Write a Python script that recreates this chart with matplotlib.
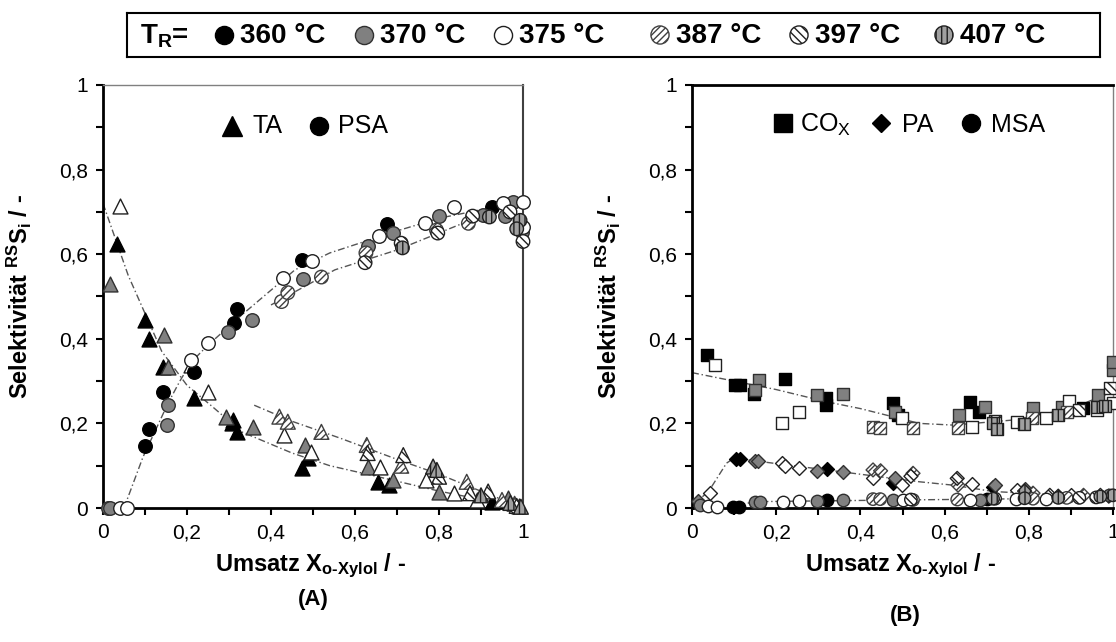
import numpy as np
import matplotlib
matplotlib.use("Agg")
import matplotlib.pyplot as plt
from matplotlib.ticker import MultipleLocator, FuncFormatter

plt.rcParams['font.family'] = ['Liberation Sans', 'DejaVu Sans']
plt.rcParams['mathtext.fontset'] = 'custom'
plt.rcParams['mathtext.rm'] = 'Liberation Sans'
plt.rcParams['mathtext.it'] = 'Liberation Sans'
plt.rcParams['mathtext.bf'] = 'Liberation Sans:bold'
plt.rcParams['hatch.linewidth'] = 1.0

temps = [360, 370, 375, 387, 397, 407]

# --- Panel A: TA (triangles) ---
ta_x = [0.033, 0.10, 0.11, 0.143, 0.217, 0.306, 0.31, 0.318, 0.473, 0.487, 0.655, 0.68, 0.925,
        0.017, 0.145, 0.155, 0.293, 0.356, 0.48, 0.63, 0.69, 0.80, 0.964,
        0.04, 0.21, 0.25, 0.43, 0.495, 0.66, 0.77, 0.835, 0.89, 0.99,
        0.42, 0.44, 0.52, 0.628, 0.71, 0.866, 0.95, 0.98,
        0.63, 0.715, 0.80, 0.874, 0.917, 0.985,
        0.786, 0.795, 0.90, 0.97, 0.995]
ta_y = [0.624, 0.444, 0.40, 0.334, 0.26, 0.20, 0.208, 0.18, 0.095, 0.118, 0.062, 0.054, 0.015,
        0.53, 0.41, 0.333, 0.216, 0.192, 0.149, 0.098, 0.066, 0.039, 0.024,
        0.714, 0.338, 0.275, 0.172, 0.133, 0.098, 0.066, 0.036, 0.019, 0.005,
        0.216, 0.204, 0.18, 0.149, 0.10, 0.062, 0.019, 0.01,
        0.13, 0.125, 0.074, 0.035, 0.039, 0.005,
        0.098, 0.09, 0.03, 0.012, 0.003]
ta_t = [360] * 13 + [370] * 10 + [375] * 10 + [387] * 8 + [397] * 6 + [407] * 5

# --- Panel A: PSA (circles) ---
psa_x = [0.10, 0.11, 0.143, 0.217, 0.312, 0.318, 0.473, 0.676, 0.926,
         0.012, 0.017, 0.152, 0.155, 0.297, 0.354, 0.476, 0.63, 0.69, 0.80, 0.905, 0.957, 0.976, 0.997,
         0.04, 0.056, 0.21, 0.25, 0.428, 0.497, 0.657, 0.767, 0.836, 0.953, 0.999, 1.0,
         0.425, 0.44, 0.52, 0.626, 0.794, 0.87,
         0.624, 0.71, 0.797, 0.88, 0.969, 1.0,
         0.713, 0.92, 0.993, 0.985]
psa_y = [0.147, 0.186, 0.275, 0.322, 0.438, 0.47, 0.586, 0.671, 0.712,
         0.0, 0.0, 0.196, 0.243, 0.417, 0.444, 0.541, 0.62, 0.65, 0.69, 0.693, 0.69, 0.724, 0.653,
         0.0, 0.0, 0.35, 0.39, 0.543, 0.583, 0.643, 0.673, 0.712, 0.72, 0.724, 0.665,
         0.488, 0.509, 0.546, 0.603, 0.657, 0.673,
         0.58, 0.626, 0.65, 0.69, 0.70, 0.63,
         0.615, 0.688, 0.68, 0.66]
psa_t = [360] * 9 + [370] * 14 + [375] * 12 + [387] * 6 + [397] * 6 + [407] * 4

# --- Panel B: COx (squares) ---
cox_x = [0.035, 0.102, 0.114, 0.147, 0.221, 0.318, 0.318, 0.478, 0.49, 0.66, 0.682, 0.929,
         0.159, 0.15, 0.298, 0.359, 0.482, 0.635, 0.696, 0.81, 0.878, 0.964, 1.0, 1.0,
         0.055, 0.214, 0.254, 0.498, 0.664, 0.771, 0.84, 0.895, 0.961, 1.0,
         0.43, 0.447, 0.525, 0.632, 0.807, 0.89,
         0.72, 0.92, 0.993,
         0.715, 0.724, 0.789, 0.869, 0.961, 0.981]
cox_y = [0.362, 0.29, 0.29, 0.27, 0.306, 0.26, 0.243, 0.248, 0.22, 0.251, 0.228, 0.236,
         0.303, 0.279, 0.267, 0.27, 0.228, 0.22, 0.239, 0.237, 0.239, 0.267, 0.326, 0.346,
         0.338, 0.20, 0.228, 0.213, 0.192, 0.204, 0.212, 0.254, 0.232, 0.248,
         0.192, 0.189, 0.189, 0.19, 0.212, 0.228,
         0.205, 0.232, 0.284,
         0.20, 0.187, 0.198, 0.22, 0.239, 0.24]
cox_t = [360] * 12 + [370] * 12 + [375] * 10 + [387] * 6 + [397] * 3 + [407] * 6

# --- Panel B: PA (diamonds) ---
pa_x = [0.104, 0.114, 0.32, 0.478, 0.715,
        0.015, 0.15, 0.157, 0.296, 0.359, 0.482, 0.72, 0.79,
        0.043, 0.214, 0.221, 0.254, 0.43, 0.498, 0.664, 0.771, 0.90,
        0.43, 0.448, 0.525, 0.632, 0.81, 0.93,
        0.52, 0.63, 0.85, 0.97,
        0.79, 0.87, 0.99]
pa_y = [0.116, 0.116, 0.092, 0.059, 0.05,
        0.017, 0.112, 0.11, 0.088, 0.086, 0.07, 0.054, 0.044,
        0.036, 0.106, 0.10, 0.094, 0.07, 0.054, 0.057, 0.043, 0.03,
        0.09, 0.088, 0.082, 0.054, 0.035, 0.03,
        0.075, 0.07, 0.03, 0.03,
        0.04, 0.028, 0.028]
pa_t = [360] * 5 + [370] * 8 + [375] * 9 + [387] * 6 + [397] * 4 + [407] * 3

# --- Panel B: MSA (circles) ---
msa_x = [0.098, 0.112, 0.32, 0.70,
         0.02, 0.15, 0.162, 0.296, 0.359, 0.478, 0.685, 0.99,
         0.038, 0.059, 0.216, 0.254, 0.50, 0.66, 0.77, 0.84,
         0.43, 0.447, 0.525, 0.63, 0.81, 0.89,
         0.52, 0.72, 0.92, 0.96,
         0.715, 0.79, 0.87, 0.97, 1.0]
msa_y = [0.003, 0.003, 0.019, 0.022,
         0.007, 0.014, 0.014, 0.017, 0.019, 0.019, 0.02, 0.03,
         0.005, 0.003, 0.015, 0.017, 0.02, 0.02, 0.022, 0.022,
         0.021, 0.021, 0.019, 0.02, 0.022, 0.024,
         0.02, 0.022, 0.024, 0.025,
         0.022, 0.023, 0.024, 0.027, 0.03]
msa_t = [360] * 4 + [370] * 8 + [375] * 8 + [387] * 6 + [397] * 4 + [407] * 5

# --- fitted trend lines (dash-dot) ---
ta_fit1_x = [0.0, 0.06, 0.14, 0.20, 0.26, 0.33, 0.45, 0.54, 0.65, 0.80, 0.90, 1.0]
ta_fit1_y = [0.72, 0.55, 0.37, 0.29, 0.24, 0.18, 0.13, 0.10, 0.075, 0.04, 0.02, 0.0]
ta_fit2_x = [0.36, 0.45, 0.565, 0.70, 0.80, 0.874, 0.95, 1.0]
ta_fit2_y = [0.243, 0.205, 0.165, 0.115, 0.08, 0.05, 0.02, 0.0]
psa_fit1_x = [0.05, 0.095, 0.155, 0.183, 0.21, 0.25, 0.33, 0.457, 0.54, 0.70, 0.80, 0.92, 1.0]
psa_fit1_y = [0.0, 0.12, 0.248, 0.30, 0.345, 0.385, 0.456, 0.563, 0.603, 0.655, 0.685, 0.709, 0.72]
psa_fit2_x = [0.40, 0.552, 0.70, 0.874, 0.98]
psa_fit2_y = [0.48, 0.563, 0.61, 0.68, 0.70]
cox_fit_x = [0.0, 0.20, 0.32, 0.40, 0.54, 0.62, 0.763, 0.90, 1.0]
cox_fit_y = [0.32, 0.28, 0.251, 0.235, 0.20, 0.196, 0.208, 0.235, 0.275]
pa_fit_x = [0.0, 0.04, 0.082, 0.10, 0.20, 0.32, 0.54, 0.62, 0.715, 0.85, 1.0]
pa_fit_y = [0.005, 0.04, 0.106, 0.118, 0.105, 0.09, 0.062, 0.054, 0.039, 0.032, 0.03]
msa_fit_x = [0.10, 0.15, 0.50, 0.80, 1.0]
msa_fit_y = [0.005, 0.015, 0.019, 0.022, 0.03]

# marker look per temperature
style = {
    360: dict(facecolor='black', edgecolor='black', hatch=None),
    370: dict(facecolor='#808080', edgecolor='#303030', hatch=None),
    375: dict(facecolor='white', edgecolor='#202020', hatch=None),
    387: dict(facecolor='white', edgecolor='#404040', hatch='/////'),
    397: dict(facecolor='white', edgecolor='#202020', hatch='\\\\\\\\'),
    407: dict(facecolor='#a0a0a0', edgecolor='#202020', hatch='|||'),
}


def draw_points(ax, xs, ys, ts, marker, size):
    xs = np.array(xs)
    ys = np.array(ys)
    ts = np.array(ts)
    for t in temps:
        m = ts == t
        st = style[t]
        ax.scatter(xs[m], ys[m], s=size, marker=marker, facecolor=st['facecolor'],
                   edgecolor=st['edgecolor'], hatch=st['hatch'], linewidths=1.0,
                   clip_on=False, zorder=3)


def fit_line(ax, xs, ys):
    ax.plot(xs, ys, color='#555555', lw=1.0, ls=(0, (5, 2, 1, 2)), zorder=2)


def comma(v, pos):
    if abs(v) < 1e-9:
        return '0'
    if abs(v - 1) < 1e-9:
        return '1'
    return f'{v:.1f}'.replace('.', ',')


XLABEL = r'Umsatz $\mathbf{X_{o' + '\u2010' + r'Xylol}}$ / -'
YLABEL = r'Selektivität $\mathbf{^{RS}S_{i}}$ / -'


def setup_axes(ax):
    ax.set_xlim(0, 1)
    ax.set_ylim(0, 1)
    ax.xaxis.set_major_locator(MultipleLocator(0.2))
    ax.xaxis.set_minor_locator(MultipleLocator(0.1))
    ax.yaxis.set_major_locator(MultipleLocator(0.2))
    ax.yaxis.set_minor_locator(MultipleLocator(0.1))
    ax.xaxis.set_major_formatter(FuncFormatter(comma))
    ax.yaxis.set_major_formatter(FuncFormatter(comma))
    ax.tick_params(which='both', direction='out', length=5, width=1.5, labelsize=15,
                   top=False, right=False, pad=6)
    for s in ['left', 'bottom']:
        ax.spines[s].set_linewidth(2.0)
        ax.spines[s].set_color('black')
    ax.set_xlabel(XLABEL, fontsize=17, fontweight='bold')
    ax.set_ylabel(YLABEL, fontsize=17, fontweight='bold')
    ax.xaxis.set_label_coords(0.495, -0.102)
    ax.yaxis.set_label_coords(-0.165, 0.5)


fig = plt.figure(figsize=(11.16, 6.42), dpi=100)
axA = fig.add_axes([103 / 1116, 1 - 508 / 642, 420 / 1116, 423 / 642])
axB = fig.add_axes([692 / 1116, 1 - 508 / 642, 421 / 1116, 423 / 642])

setup_axes(axA)
setup_axes(axB)
axA.spines['top'].set_color('#808080')
axA.spines['top'].set_linewidth(1.0)
axA.spines['right'].set_color('#404040')
axA.spines['right'].set_linewidth(1.5)
axB.spines['top'].set_linewidth(2.0)
axB.spines['right'].set_color('#808080')
axB.spines['right'].set_linewidth(1.0)

# panel A
fit_line(axA, ta_fit1_x, ta_fit1_y)
fit_line(axA, ta_fit2_x, ta_fit2_y)
fit_line(axA, psa_fit1_x, psa_fit1_y)
fit_line(axA, psa_fit2_x, psa_fit2_y)
draw_points(axA, ta_x, ta_y, ta_t, '^', 115)
draw_points(axA, psa_x, psa_y, psa_t, 'o', 95)

axA.plot([0.306], [0.903], marker='^', ms=14, color='black', transform=axA.transAxes)
axA.text(0.357, 0.903, 'TA', fontsize=18, va='center', transform=axA.transAxes)
axA.plot([0.514], [0.903], marker='o', ms=13, color='black', transform=axA.transAxes)
axA.text(0.56, 0.903, 'PSA', fontsize=18, va='center', transform=axA.transAxes)

# panel B
fit_line(axB, cox_fit_x, cox_fit_y)
fit_line(axB, pa_fit_x, pa_fit_y)
fit_line(axB, msa_fit_x, msa_fit_y)
draw_points(axB, cox_x, cox_y, cox_t, 's', 75)
draw_points(axB, pa_x, pa_y, pa_t, 'D', 50)
draw_points(axB, msa_x, msa_y, msa_t, 'o', 80)

axB.plot([0.217], [0.911], marker='s', ms=13, color='black', transform=axB.transAxes)
axB.text(0.257, 0.905, r'CO$_\mathrm{X}$', fontsize=18, va='center', transform=axB.transAxes)
axB.plot([0.449], [0.911], marker='D', ms=9.5, color='black', transform=axB.transAxes)
axB.text(0.499, 0.905, 'PA', fontsize=18, va='center', transform=axB.transAxes)
axB.plot([0.663], [0.911], marker='o', ms=13, color='black', transform=axB.transAxes)
axB.text(0.71, 0.905, 'MSA', fontsize=18, va='center', transform=axB.transAxes)

# temperature legend strip
axL = fig.add_axes([127 / 1116, 1 - 57 / 642, 973 / 1116, 44 / 642])
axL.set_xlim(127, 1100)
axL.set_ylim(0, 1)
axL.set_xticks([])
axL.set_yticks([])
for s in axL.spines.values():
    s.set_linewidth(1.5)
axL.text(140, 0.47, r'T$_\mathbf{R}$=', fontsize=20, fontweight='bold', va='center')
leg_marker_x = [224, 364, 503, 660, 799, 944]
for t, mx in zip(temps, leg_marker_x):
    st = style[t]
    axL.scatter([mx], [0.5], s=170, marker='o', facecolor=st['facecolor'],
                edgecolor=st['edgecolor'], hatch=st['hatch'], linewidths=1.0)
    axL.text(mx + 16, 0.47, f'{t} °C', fontsize=20, fontweight='bold', va='center')

fig.text(313 / 1116, 1 - 600 / 642, '(A)', fontsize=16, fontweight='bold', ha='center', va='center')
fig.text(905 / 1116, 1 - 615 / 642, '(B)', fontsize=16, fontweight='bold', ha='center', va='center')

fig.savefig('out.png', dpi=100)
